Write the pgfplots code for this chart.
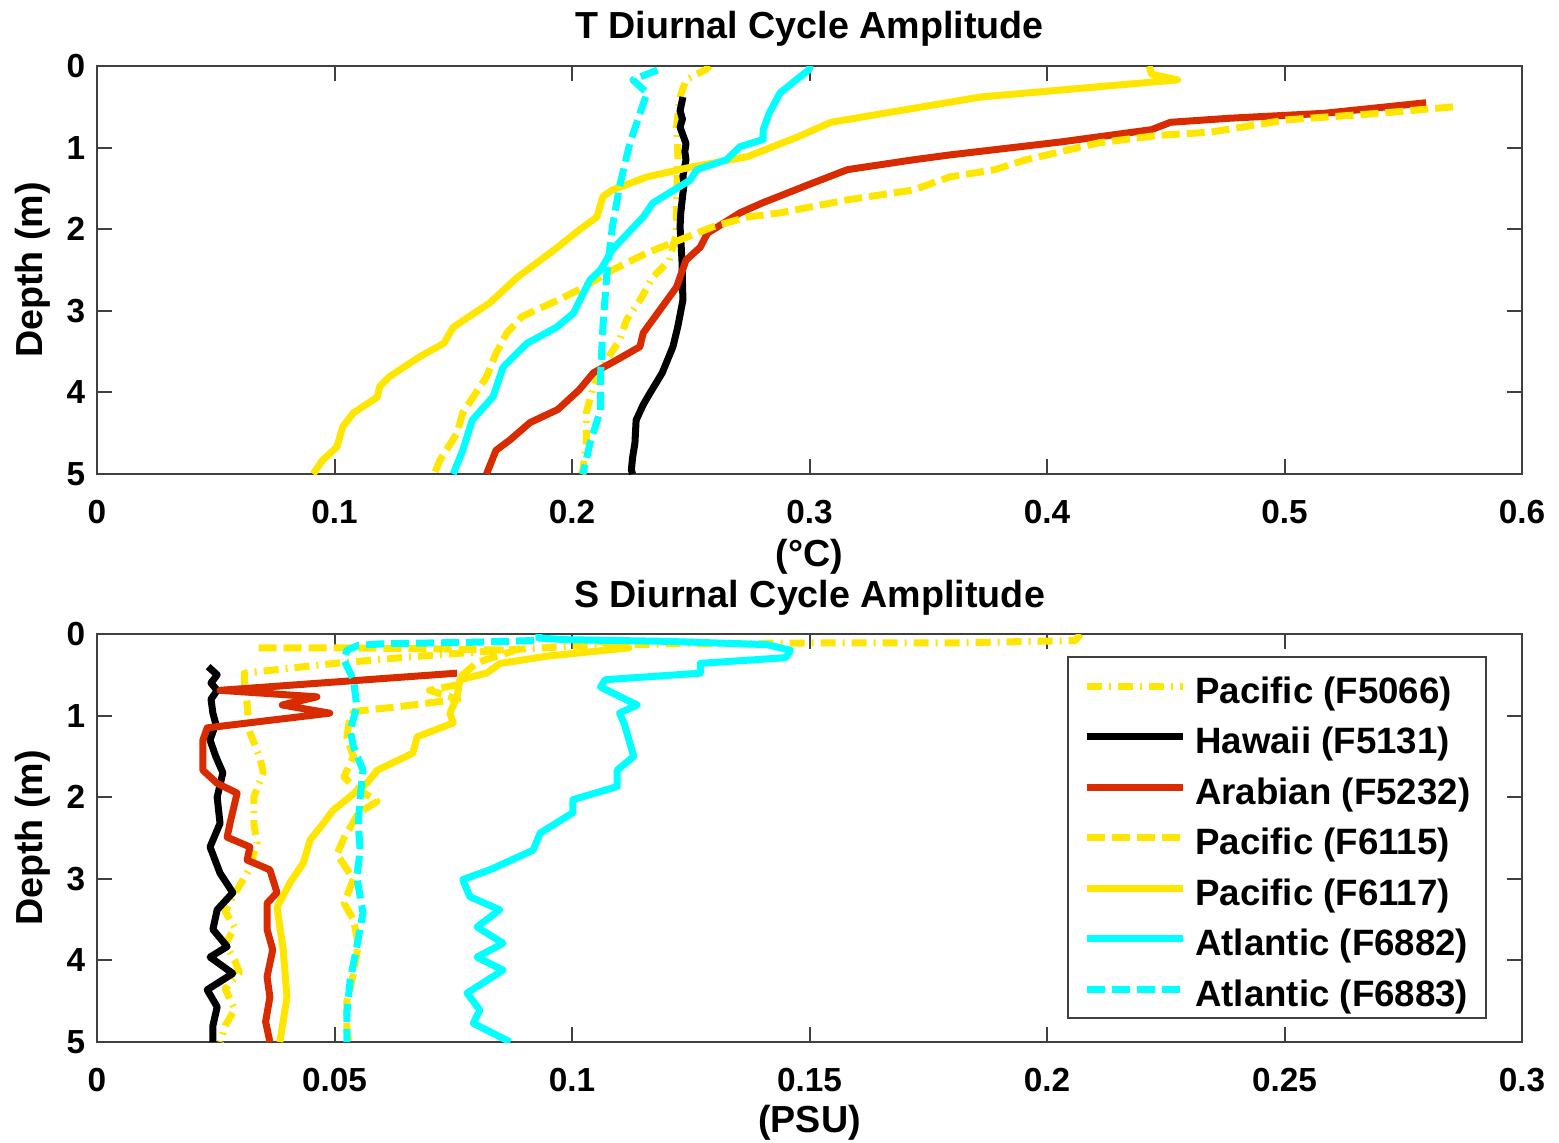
\documentclass[border=0pt]{standalone}
\usepackage{fontspec}
\setmainfont{Liberation Sans}
\usepackage{pgfplots}
\pgfplotsset{compat=1.18}
\definecolor{myyellow}{RGB}{255,230,0}
\definecolor{myred}{RGB}{217,43,0}
\definecolor{mycyan}{RGB}{0,255,255}
\begin{document}
\begin{tikzpicture}
\pgfplotsset{
  panel/.style={
    scale only axis, width=427.5pt, height=122.4pt,
    y dir=reverse, ymin=0, ymax=5, ytick={0,1,2,3,4,5},
    axis line style={draw=black!75, line width=0.6pt},
    tick style={draw=black!75, line width=0.6pt},
    major tick length=4.5pt, tick align=inside,
    ticklabel style={font=\fontsize{10}{12}\selectfont\bfseries},
    xticklabel style={yshift=-4.2pt},
    /pgf/number format/assume math mode=true,
    label style={font=\fontsize{11.3}{13}\selectfont\bfseries},
    title style={font=\fontsize{11.3}{13}\selectfont\bfseries, anchor=center, yshift=-7.2pt},
    ylabel={Depth (m)},
    ylabel style={at={(axis description cs:-0.045,0.5)}, anchor=center},
    every axis plot/.append style={line width=2.1pt, line join=round},
  },
  pdash/.style={dash pattern=on 5.4pt off 2.1pt},
  pdashdot/.style={dash pattern=on 4.5pt off 2.1pt on 0.6pt off 2.1pt},
}
\path[use as bounding box] (0,0) rectangle (467.7pt,342.6pt);
% ---------------- top panel ----------------
\begin{axis}[panel, at={(29.1pt,200.4pt)}, anchor=south west,
  xmin=0, xmax=0.6, xtick={0,0.1,0.2,0.3,0.4,0.5,0.6},
  xticklabels={0,0.1,0.2,0.3,0.4,0.5,0.6},
  title={T Diurnal Cycle Amplitude}, title style={at={(axis description cs:0.5,1.1005)}},
  xlabel={(°C)}, xlabel style={at={(axis description cs:0.5,-0.2034)}, anchor=center}]
\addplot[myyellow, pdashdot] coordinates {(0.258,0.0) (0.256,0.05) (0.248,0.17) (0.2455,0.38) (0.244,0.75) (0.2446,1.15) (0.244,1.64) (0.244,2.05) (0.241,2.38) (0.234,2.59) (0.2286,2.87) (0.223,3.11) (0.220,3.36) (0.2147,3.60) (0.209,3.93) (0.206,4.25) (0.206,4.62) (0.2046,4.95) (0.204,5.0)};
\addplot[black] coordinates {(0.2467,0.38) (0.2455,0.55) (0.2465,0.65) (0.2455,0.75) (0.248,0.95) (0.2475,1.05) (0.248,1.15) (0.2467,1.35) (0.2472,1.45) (0.2467,1.56) (0.2458,1.8) (0.2455,1.97) (0.2463,2.38) (0.2467,2.87) (0.2445,3.2) (0.2425,3.44) (0.238,3.76) (0.2328,4.01) (0.2300,4.15) (0.227,4.34) (0.2265,4.62) (0.2255,4.8) (0.225,4.95) (0.2255,5.0)};
\addplot[myred] coordinates {(0.5596,0.45) (0.5166,0.58) (0.477,0.64) (0.452,0.69) (0.444,0.78) (0.406,0.93) (0.359,1.09) (0.3436,1.15) (0.316,1.27) (0.300,1.45) (0.280,1.68) (0.2707,1.80) (0.257,2.05) (0.254,2.22) (0.248,2.38) (0.244,2.71) (0.238,2.95) (0.230,3.27) (0.2286,3.44) (0.219,3.60) (0.209,3.76) (0.203,3.97) (0.194,4.21) (0.1823,4.37) (0.174,4.58) (0.168,4.71) (0.164,5.0)};
\addplot[myyellow, pdash] coordinates {(0.571,0.50) (0.540,0.58) (0.501,0.66) (0.469,0.81) (0.447,0.85) (0.422,0.94) (0.391,1.15) (0.378,1.27) (0.359,1.36) (0.3436,1.52) (0.316,1.64) (0.2876,1.80) (0.274,1.85) (0.2594,1.97) (0.2455,2.13) (0.2316,2.29) (0.217,2.50) (0.203,2.74) (0.194,2.87) (0.179,3.07) (0.1726,3.27) (0.168,3.52) (0.164,3.81) (0.154,4.25) (0.1516,4.50) (0.1444,4.83) (0.142,5.0)};
\addplot[myyellow] coordinates {(0.443,0.0) (0.444,0.1) (0.455,0.17) (0.372,0.38) (0.309,0.69) (0.295,0.87) (0.274,1.11) (0.250,1.24) (0.2315,1.36) (0.217,1.52) (0.213,1.60) (0.2105,1.85) (0.203,2.01) (0.194,2.22) (0.177,2.59) (0.1655,2.90) (0.150,3.2) (0.146,3.4) (0.136,3.56) (0.123,3.81) (0.119,3.93) (0.118,4.06) (0.108,4.25) (0.1035,4.42) (0.101,4.67) (0.095,4.83) (0.091,5.0)};
\addplot[mycyan] coordinates {(0.300,0.0) (0.300,0.04) (0.2876,0.33) (0.283,0.58) (0.2805,0.78) (0.2805,0.90) (0.2707,0.99) (0.265,1.15) (0.2526,1.27) (0.2497,1.40) (0.234,1.68) (0.230,1.85) (0.217,2.25) (0.212,2.50) (0.2076,2.62) (0.2006,3.03) (0.1936,3.20) (0.181,3.40) (0.171,3.69) (0.1668,4.05) (0.158,4.34) (0.154,4.71) (0.150,5.0)};
\addplot[mycyan, pdash] coordinates {(0.236,0.05) (0.2256,0.17) (0.2316,0.33) (0.2244,0.94) (0.220,1.48) (0.217,1.97) (0.2147,2.54) (0.213,3.2) (0.212,3.81) (0.212,4.22) (0.2076,4.62) (0.2046,5.0)};
\end{axis}
% ---------------- bottom panel ----------------
\begin{axis}[panel, at={(29.1pt,30pt)}, anchor=south west,
  xmin=0, xmax=0.3, xtick={0,0.05,0.1,0.15,0.2,0.25,0.3},
  xticklabels={0,0.05,0.1,0.15,0.2,0.25,0.3},
  title={S Diurnal Cycle Amplitude}, title style={at={(axis description cs:0.5,1.098)}},
  xlabel={(PSU)}, xlabel style={at={(axis description cs:0.5,-0.1983)}, anchor=center},
  legend style={at={(axis description cs:0.9754,0.946)}, anchor=north east,
    draw=black!75, line width=0.6pt, fill=white,
    font=\fontsize{11}{13}\selectfont\bfseries,
    inner xsep=4.7pt, inner ysep=3.6pt, row sep=4.95pt,
    nodes={inner sep=0pt, text height=10.2pt, text depth=0pt},
    /tikz/every odd column/.append style={column sep=2.7pt}},
  legend cell align=left,
  legend image code/.code={\draw[#1, line width=2.1pt] (0pt,0pt) -- (28.8pt,0pt);}]
\addplot[myyellow, pdashdot] coordinates {(0.207,0.0) (0.206,0.08) (0.18,0.11) (0.15,0.11) (0.12,0.12) (0.10,0.15) (0.085,0.2) (0.066,0.28) (0.05,0.36) (0.031,0.48) (0.031,0.56) (0.0316,0.85) (0.032,1.18) (0.0343,1.51) (0.035,1.70) (0.033,2.0) (0.033,2.32) (0.0337,2.56) (0.032,2.89) (0.0286,3.22) (0.027,3.4) (0.029,3.6) (0.027,3.8) (0.029,4.0) (0.030,4.15) (0.027,4.35) (0.029,4.6) (0.027,4.8) (0.026,5.0)};
\addlegendentry{Pacific (F5066)}
\addplot[black] coordinates {(0.0234,0.40) (0.0253,0.5) (0.0240,0.6) (0.0253,0.69) (0.0240,0.8) (0.0244,0.97) (0.0250,1.1) (0.0238,1.30) (0.0250,1.5) (0.0265,1.70) (0.0253,2.0) (0.0259,2.32) (0.0238,2.61) (0.0259,2.93) (0.0286,3.17) (0.0253,3.38) (0.0244,3.62) (0.0274,3.83) (0.0238,3.96) (0.0286,4.16) (0.0232,4.36) (0.0253,4.57) (0.0244,4.8) (0.0244,5.0)};
\addlegendentry{Hawaii (F5131)}
\addplot[myred] coordinates {(0.0758,0.48) (0.0259,0.69) (0.0463,0.77) (0.039,0.87) (0.049,0.97) (0.0232,1.15) (0.0223,1.30) (0.0223,1.67) (0.0253,1.83) (0.0295,1.95) (0.028,2.32) (0.0274,2.49) (0.0322,2.61) (0.0316,2.77) (0.0364,2.89) (0.0379,3.17) (0.0358,3.30) (0.0358,3.62) (0.037,3.87) (0.0358,4.20) (0.0364,4.45) (0.0355,4.75) (0.0364,5.0)};
\addlegendentry{Arabian (F5232)}
\addplot[myyellow, pdash] coordinates {(0.034,0.17) (0.050,0.17) (0.070,0.18) (0.088,0.2) (0.080,0.35) (0.077,0.5) (0.076,0.62) (0.070,0.69) (0.076,0.80) (0.065,0.88) (0.054,0.95) (0.053,1.1) (0.0526,1.27) (0.054,1.5) (0.052,1.75) (0.054,1.87) (0.059,2.05) (0.055,2.2) (0.052,2.5) (0.0505,2.7) (0.054,3.0) (0.052,3.3) (0.054,3.5) (0.055,3.8) (0.054,4.16) (0.0526,4.5) (0.0526,4.85) (0.053,5.0)};
\addlegendentry{Pacific (F6115)}
\addplot[myyellow] coordinates {(0.105,0.08) (0.112,0.17) (0.095,0.27) (0.0849,0.36) (0.082,0.48) (0.0764,0.56) (0.0758,0.77) (0.0743,0.97) (0.075,1.09) (0.0674,1.26) (0.0665,1.46) (0.059,1.67) (0.0568,1.83) (0.0497,2.16) (0.047,2.37) (0.0449,2.52) (0.0434,2.81) (0.0406,3.05) (0.0379,3.35) (0.0392,3.87) (0.040,4.45) (0.0385,5.0)};
\addlegendentry{Pacific (F6117)}
\addplot[mycyan] coordinates {(0.093,0.0) (0.093,0.05) (0.099,0.07) (0.12,0.09) (0.141,0.13) (0.146,0.2) (0.145,0.29) (0.127,0.36) (0.127,0.48) (0.107,0.56) (0.106,0.65) (0.1137,0.87) (0.110,0.97) (0.111,1.1) (0.113,1.5) (0.1095,1.67) (0.1095,1.87) (0.1002,2.03) (0.1002,2.19) (0.0933,2.44) (0.0918,2.65) (0.0827,2.89) (0.077,3.01) (0.0785,3.22) (0.0848,3.38) (0.080,3.59) (0.0855,3.79) (0.080,3.96) (0.0855,4.12) (0.0779,4.40) (0.0806,4.61) (0.0792,4.77) (0.0863,4.98) (0.087,5.0)};
\addlegendentry{Atlantic (F6882)}
\addplot[mycyan, pdash] coordinates {(0.092,0.08) (0.080,0.10) (0.070,0.11) (0.060,0.12) (0.055,0.14) (0.0526,0.2) (0.052,0.32) (0.054,0.56) (0.0547,0.89) (0.0533,1.18) (0.054,1.38) (0.056,1.67) (0.0554,2.0) (0.055,2.32) (0.0554,2.65) (0.0547,2.98) (0.056,3.42) (0.0547,3.83) (0.0533,4.24) (0.0526,4.64) (0.0526,5.0)};
\addlegendentry{Atlantic (F6883)}
\end{axis}
\end{tikzpicture}
\end{document}
